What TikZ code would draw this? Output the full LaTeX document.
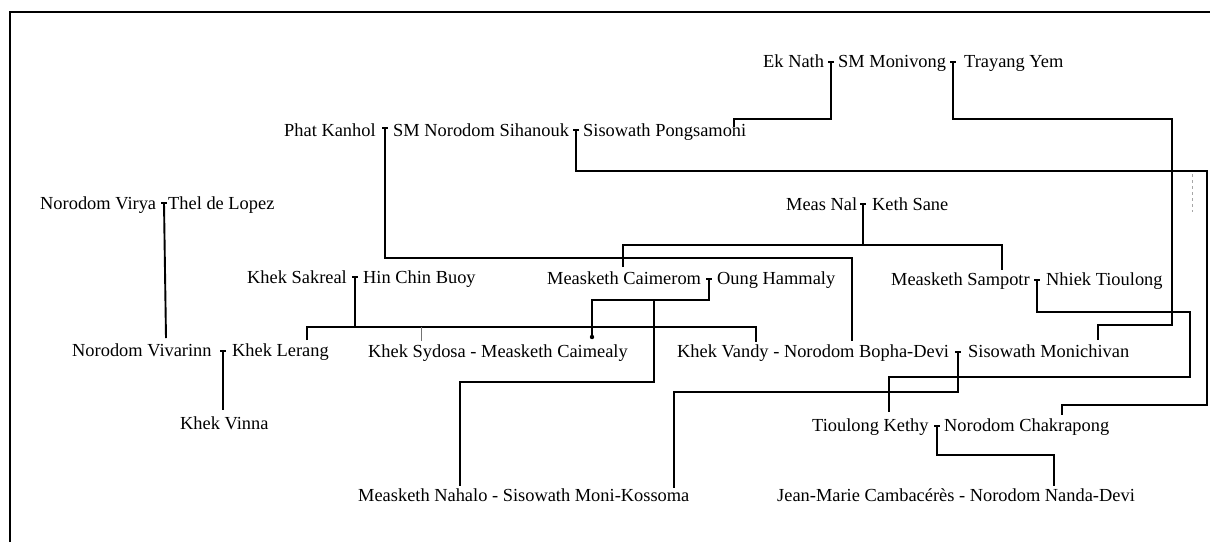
\documentclass[tikz,border=0pt]{standalone}
\usepackage{fontspec}
\setmainfont{Liberation Serif}
\begin{document}
\begin{tikzpicture}[x=1pt,y=-1pt,
  lbl/.style={anchor=base west, inner sep=0pt, font=\fontsize{18.4}{22}\selectfont},
  link/.style={line width=1.9pt, draw=black},
  thinlink/.style={line width=0.7pt, draw=black!55},
  frame/.style={line width=2.6pt, draw=black}]
\useasboundingbox (0,0) rectangle (1210,542);
\fill[white] (0,0) rectangle (1210,542);
% frame
\draw[frame] (10,542) -- (10,12) -- (1210,12);

% people
\node[lbl] (ek) at (763,67) {Ek Nath};
\node[lbl] (moni) at (838,67) {SM Monivong};
\node[lbl] (tray) at (964,67) {Trayang Yem};
\node[lbl] (phat) at (284,136) {Phat Kanhol};
\node[lbl] (sih) at (393,136) {SM Norodom Sihanouk};
\node[lbl] (pong) at (583,136) {Sisowath Pongsamoni};
\node[lbl] (virya) at (40,209) {Norodom Virya};
\node[lbl] (lopez) at (168,209) {Thel de Lopez};
\node[lbl] (measnal) at (786,210) {Meas Nal};
\node[lbl] (keth) at (872,210) {Keth Sane};
\node[lbl] (sakreal) at (247,283) {Khek Sakreal};
\node[lbl] (hin) at (363,283) {Hin Chin Buoy};
\node[lbl] (caim) at (547,284) {Measketh Caimerom};
\node[lbl] (oung) at (717,284) {Oung Hammaly};
\node[lbl] (samp) at (891,285) {Measketh Sampotr};
\node[lbl] (nhiek) at (1046,285) {Nhiek Tioulong};
\node[lbl] (viv) at (72,356) {Norodom Vivarinn};
\node[lbl] (lerang) at (232,356) {Khek Lerang};
\node[lbl] (sydosa) at (368,357) {Khek Sydosa - Measketh Caimealy};
\node[lbl] (vandy) at (677,357) {Khek Vandy - Norodom Bopha-Devi};
\node[lbl] (monich) at (968,357) {Sisowath Monichivan};
\node[lbl] (vinna) at (180,429) {Khek Vinna};
\node[lbl] (kethy) at (812,431) {Tioulong Kethy};
\node[lbl] (chak) at (944,431) {Norodom Chakrapong};
\node[lbl] (nahalo) at (358,501) {Measketh Nahalo - Sisowath Moni-Kossoma};
\node[lbl] (jean) at (777,501) {Jean-Marie Cambacérès - Norodom Nanda-Devi};

% couple ticks
\coordinate (tEk) at ([xshift=-7pt,yshift=5pt]moni.base west);
\coordinate (tTray) at ([xshift=-11pt,yshift=5pt]tray.base west);
\coordinate (tPhat) at ([xshift=-8pt,yshift=8pt]sih.base west);
\coordinate (tPong) at ([xshift=-7pt,yshift=6pt]pong.base west);
\coordinate (tVirya) at ([xshift=-4pt,yshift=6pt]lopez.base west);
\coordinate (tMeas) at ([xshift=-9pt,yshift=6pt]keth.base west);
\coordinate (tSak) at ([xshift=-8pt,yshift=6pt]hin.base west);
\coordinate (tCaim) at ([xshift=-8pt,yshift=5pt]oung.base west);
\coordinate (tSamp) at ([xshift=-9pt,yshift=5pt]nhiek.base west);
\coordinate (tViv) at ([xshift=-9pt,yshift=5pt]lerang.base west);
\coordinate (tBopha) at ([xshift=-10pt,yshift=5pt]monich.base west);
\coordinate (tKethy) at ([xshift=-7pt,yshift=5pt]chak.base west);
\foreach \t in {tEk,tTray,tPhat,tPong,tVirya,tMeas,tSak,tCaim,tSamp,tViv,tBopha,tKethy}
  \draw[link] ([xshift=-2.6pt]\t) -- ([xshift=2.6pt]\t);

% descent lines
\draw[link] (tEk) -- (831,119) -- (734,119) -- ([xshift=151pt,yshift=9pt]pong.base west);
\draw[link] (tTray) -- (953,119) -- (1172,119) -- (1172,325) -- (1098,325) -- ([xshift=130pt,yshift=17pt]monich.base west);
\draw[link] (tPhat) -- (385,258) -- (852,258) -- ([xshift=175pt,yshift=16pt]vandy.base west);
\draw[link] (tPong) -- (576,171) -- (1207,171) -- (1207,405) -- (1062,405) -- ([xshift=118pt,yshift=16pt]chak.base west);
\draw[link] (tVirya) -- ([xshift=94pt,yshift=18pt]viv.base west);
\draw[link] (tMeas) -- (863,245);
\draw[link] ([xshift=76pt,yshift=17pt]caim.base west) -- (623,245) -- (1002,245) -- ([xshift=111pt,yshift=15pt]samp.base west);
\draw[link] (tSak) -- (355,327);
\draw[link] ([xshift=75pt,yshift=16pt]lerang.base west) -- (307,327) -- (756,327) -- ([xshift=79pt,yshift=15pt]vandy.base west);
\draw[thinlink] (421,327) -- ([xshift=53pt,yshift=16pt]sydosa.base west);
\draw[link] (tCaim) -- (709,300) -- (592,300) -- ([xshift=224pt,yshift=20pt]sydosa.base west);
\fill[black] ([xshift=224pt,yshift=20pt]sydosa.base west) circle (2.2pt);
\draw[link] (654,300) -- (654,382) -- (460,382) -- ([xshift=102pt,yshift=15pt]nahalo.base west);
\draw[link] (tBopha) -- (958,392) -- (674,392) -- ([xshift=316pt,yshift=13pt]nahalo.base west);
\draw[link] (tViv) -- ([xshift=43pt,yshift=19pt]vinna.base west);
\draw[link] (tSamp) -- (1037,312) -- (1190,312) -- (1190,377) -- (889,377) -- ([xshift=77pt,yshift=19pt]kethy.base west);
\draw[link] (tKethy) -- (937,455) -- (1054,455) -- ([xshift=277pt,yshift=15pt]jean.base west);
% faint scan mark
\draw[black!35, line width=0.6pt, dashed] (1192,174) -- (1192,212);
\end{tikzpicture}
\end{document}
